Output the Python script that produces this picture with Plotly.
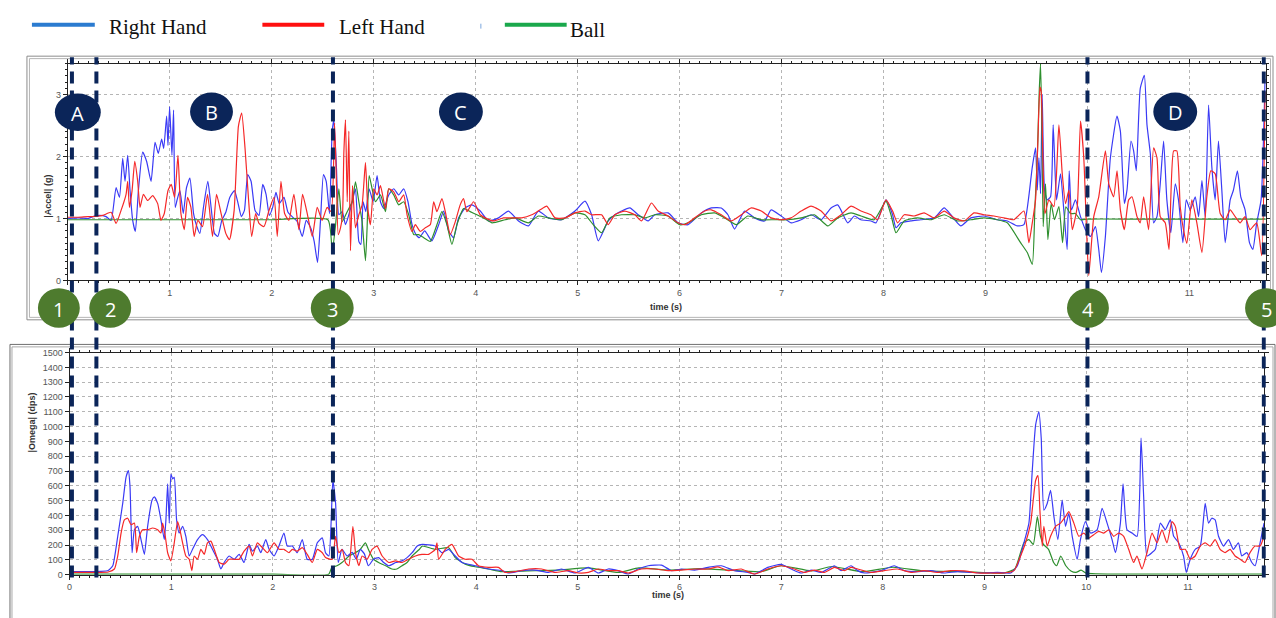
import plotly.graph_objects as go

W, H = 1276, 618

# ---------------- data (time s, value) ----------------
# Top panel: |Accel| (g)
rh_acc = [(0,1.0),(0.1,1.01),(0.2,1.0),(0.245,1.03),(0.31,1.05),(0.375,1.03),(0.424,0.97),(0.473,1.5),(0.506,1.34),(0.538,1.97),(0.561,1.6),(0.587,2.02),(0.61,1.45),(0.636,0.97),(0.662,0.79),(0.692,1.45),(0.734,2.07),(0.773,1.92),(0.816,1.6),(0.855,2.23),(0.887,2.05),(0.92,2.28),(0.94,2.13),(0.969,2.65),(0.982,2.18),(0.998,2.8),(1.021,2.02),(1.037,2.75),(1.053,1.18),(1.07,1.29),(1.099,1.45),(1.132,1.08),(1.164,1.5),(1.197,1.65),(1.233,1.08),(1.265,0.87),(1.295,0.76),(1.33,1.18),(1.373,1.6),(1.405,1.18),(1.438,0.76),(1.471,0.71),(1.51,0.97),(1.549,1.1),(1.588,1.34),(1.634,1.45),(1.67,1.24),(1.702,1.03),(1.732,1.13),(1.764,1.71),(1.797,1.6),(1.836,1.13),(1.875,1.05),(1.911,1.55),(1.944,1.39),(1.976,1.05),(2.009,1.18),(2.041,1.42),(2.074,1.24),(2.12,1.34),(2.159,1.1),(2.2,1.03),(2.25,0.95),(2.299,0.71),(2.338,0.97),(2.384,0.84),(2.416,0.63),(2.449,0.29),(2.478,0.97),(2.507,1.71),(2.534,1.6),(2.566,1.08),(2.592,2.39),(2.609,2.59),(2.635,1.8),(2.658,1.06),(2.691,1.11),(2.723,0.9),(2.756,1.06),(2.789,1.27),(2.821,1.48),(2.854,0.63),(2.874,0.58),(2.896,1.27),(2.922,1.11),(2.955,1.48),(2.994,1.27),(3.033,1.69),(3.066,1.27),(3.098,1.16),(3.147,1.38),(3.196,1.48),(3.245,1.38),(3.294,1.48),(3.336,1.27),(3.376,0.9),(3.415,0.74),(3.447,0.69),(3.5,0.8),(3.57,0.64),(3.637,0.9),(3.686,1.12),(3.735,0.8),(3.783,0.69),(3.833,1.01),(3.897,1.17),(3.963,1.22),(4.045,1.12),(4.126,0.96),(4.224,1.01),(4.322,1.12),(4.42,0.96),(4.517,0.88),(4.615,1.12),(4.713,1.01),(4.843,0.98),(4.974,1.12),(5.072,1.28),(5.137,1.06),(5.202,0.64),(5.3,0.96),(5.365,1.06),(5.43,1.12),(5.512,1.17),(5.594,1.06),(5.692,0.96),(5.757,1.06),(5.887,1.09),(5.985,0.93),(6.083,0.9),(6.213,1.09),(6.311,1.17),(6.409,1.17),(6.474,1.06),(6.539,0.83),(6.637,1.12),(6.735,1.01),(6.833,0.96),(6.898,1.14),(6.996,1.04),(7.094,0.93),(7.192,0.98),(7.29,1.06),(7.388,0.98),(7.485,1.17),(7.551,1.22),(7.649,0.93),(7.714,1.04),(7.779,0.98),(7.877,0.96),(7.926,0.93),(8.024,1.3),(8.089,1.06),(8.122,0.85),(8.17,0.93),(8.268,0.96),(8.366,0.98),(8.497,1.01),(8.595,1.17),(8.66,1.06),(8.758,0.88),(8.856,1.01),(8.985,1.04),(9.116,0.98),(9.214,0.96),(9.312,0.88),(9.377,0.9),(9.459,1.83),(9.491,2.14),(9.508,1.46),(9.524,1.98),(9.54,1.4),(9.556,3.0),(9.579,1.46),(9.605,1.3),(9.638,1.35),(9.664,2.51),(9.697,1.3),(9.736,1.72),(9.768,1.14),(9.801,0.5),(9.821,1.77),(9.844,1.14),(9.882,1.3),(9.932,1.03),(9.98,0.82),(10.03,0.71),(10.078,0.87),(10.111,0.5),(10.137,0.13),(10.176,0.71),(10.225,1.98),(10.29,2.65),(10.323,2.41),(10.362,1.24),(10.388,1.46),(10.427,2.25),(10.453,2.09),(10.479,1.77),(10.518,3.1),(10.558,3.31),(10.584,2.51),(10.617,2.04),(10.649,0.93),(10.682,1.03),(10.714,1.56),(10.747,2.25),(10.779,1.3),(10.818,0.77),(10.861,1.56),(10.893,1.3),(10.936,0.61),(10.969,1.3),(11.008,1.14),(11.057,1.35),(11.09,1.03),(11.123,1.61),(11.155,1.03),(11.188,2.83),(11.22,1.83),(11.253,1.3),(11.285,2.25),(11.318,1.46),(11.351,0.61),(11.4,1.3),(11.432,1.46),(11.471,1.77),(11.504,1.35),(11.546,1.14),(11.589,0.61),(11.622,0.5),(11.66,0.93),(11.703,1.3),(11.742,3.25)]

lh_acc = [(0,1.02),(0.1,1.02),(0.2,1.03),(0.245,1.03),(0.343,1.05),(0.424,1.1),(0.473,0.92),(0.522,1.13),(0.571,1.39),(0.587,1.6),(0.604,1.18),(0.63,1.45),(0.656,1.92),(0.685,1.6),(0.708,1.18),(0.741,1.39),(0.783,1.29),(0.832,1.37),(0.881,1.24),(0.913,0.97),(0.946,1.08),(0.982,1.45),(1.014,1.55),(1.047,1.34),(1.08,2.02),(1.109,1.08),(1.142,0.82),(1.174,1.34),(1.207,1.18),(1.239,0.71),(1.275,0.97),(1.321,0.87),(1.37,1.39),(1.419,0.71),(1.458,1.39),(1.503,1.08),(1.549,0.76),(1.585,0.66),(1.631,1.13),(1.673,2.49),(1.705,2.7),(1.738,2.13),(1.771,1.34),(1.803,0.71),(1.842,1.08),(1.875,0.92),(1.924,0.87),(1.973,1.13),(2.022,1.34),(2.054,0.71),(2.09,1.6),(2.126,1.08),(2.168,0.97),(2.217,1.39),(2.266,0.82),(2.302,1.39),(2.348,1.08),(2.397,0.71),(2.446,1.18),(2.494,0.97),(2.543,1.18),(2.583,1.11),(2.616,2.54),(2.635,1.53),(2.652,0.74),(2.674,0.85),(2.694,1.06),(2.707,2.06),(2.723,2.59),(2.74,1.27),(2.756,2.41),(2.772,0.48),(2.792,1.53),(2.821,0.85),(2.854,1.06),(2.886,1.22),(2.919,1.9),(2.942,1.16),(2.968,0.9),(3.0,1.48),(3.033,1.38),(3.066,1.53),(3.115,1.16),(3.147,1.48),(3.196,1.43),(3.245,1.27),(3.294,1.38),(3.327,1.06),(3.376,0.79),(3.408,0.9),(3.457,0.79),(3.506,0.85),(3.555,0.9),(3.588,1.27),(3.62,1.11),(3.669,1.32),(3.702,1.11),(3.751,0.74),(3.8,0.95),(3.848,1.22),(3.881,1.32),(3.914,1.11),(3.979,1.27),(4.045,1.06),(4.093,1.01),(4.175,0.96),(4.273,1.01),(4.354,1.01),(4.452,1.01),(4.55,1.06),(4.632,1.14),(4.697,1.2),(4.778,1.01),(4.876,1.01),(4.974,1.09),(5.072,1.12),(5.137,1.06),(5.235,1.06),(5.3,0.9),(5.365,1.06),(5.463,1.12),(5.561,1.06),(5.626,0.96),(5.724,1.25),(5.789,1.12),(5.887,1.04),(5.985,0.93),(6.05,0.9),(6.148,1.01),(6.246,1.12),(6.311,1.14),(6.409,1.06),(6.507,0.96),(6.605,1.06),(6.703,1.17),(6.801,1.12),(6.898,1.01),(6.996,0.98),(7.094,1.01),(7.192,1.12),(7.29,1.2),(7.388,1.12),(7.485,0.96),(7.583,1.06),(7.681,1.2),(7.779,1.12),(7.877,1.06),(7.942,0.98),(8.024,1.3),(8.089,1.12),(8.138,0.93),(8.203,1.06),(8.3,1.04),(8.398,1.09),(8.497,1.01),(8.595,1.12),(8.692,1.01),(8.79,0.96),(8.888,1.09),(8.985,1.06),(9.083,1.04),(9.181,1.01),(9.279,0.98),(9.377,1.12),(9.426,0.61),(9.459,0.93),(9.491,1.3),(9.514,2.25),(9.534,3.12),(9.547,3.04),(9.563,1.98),(9.583,1.08),(9.622,1.3),(9.671,1.19),(9.72,2.51),(9.753,1.72),(9.785,1.24),(9.818,1.46),(9.851,0.82),(9.9,1.19),(9.932,2.57),(9.964,1.98),(9.991,0.82),(10.013,0.08),(10.062,1.03),(10.111,1.35),(10.176,2.09),(10.209,1.56),(10.257,1.35),(10.29,1.77),(10.323,1.14),(10.362,0.82),(10.404,1.3),(10.437,1.35),(10.486,1.03),(10.518,0.93),(10.551,1.35),(10.6,0.82),(10.649,2.14),(10.682,1.98),(10.714,1.03),(10.763,0.93),(10.8,0.5),(10.845,2.09),(10.877,2.09),(10.91,1.19),(10.942,0.82),(10.975,0.6),(11.024,1.3),(11.073,0.93),(11.123,0.45),(11.171,1.35),(11.21,1.77),(11.253,1.72),(11.302,1.08),(11.351,0.98),(11.4,1.14),(11.449,1.03),(11.498,0.93),(11.546,1.03),(11.595,0.82),(11.66,0.93),(11.709,0.4),(11.742,3.04)]

ball_acc = [(0,0.98),(0.5,0.98),(1.0,0.98),(1.5,0.98),(2.0,0.98),(2.55,0.98),(2.593,0.48),(2.626,0.9),(2.658,1.48),(2.691,0.95),(2.74,1.11),(2.789,1.27),(2.821,1.59),(2.854,1.27),(2.886,0.95),(2.919,0.32),(2.935,0.85),(2.955,1.69),(2.984,1.48),(3.017,1.27),(3.066,1.38),(3.115,1.11),(3.147,1.48),(3.196,1.38),(3.245,1.22),(3.294,1.27),(3.343,1.06),(3.392,0.74),(3.441,0.74),(3.49,0.69),(3.555,0.63),(3.62,0.9),(3.669,1.11),(3.718,0.9),(3.767,0.58),(3.816,0.9),(3.881,1.16),(3.946,1.11),(4.012,1.06),(4.077,1.01),(4.159,0.93),(4.289,0.98),(4.387,1.01),(4.517,0.93),(4.615,1.04),(4.713,1.01),(4.843,0.98),(4.974,1.09),(5.072,1.06),(5.153,0.9),(5.235,0.77),(5.316,1.01),(5.43,1.06),(5.561,1.06),(5.659,1.01),(5.757,1.06),(5.887,1.04),(6.001,0.9),(6.083,0.93),(6.213,1.06),(6.344,1.09),(6.442,1.01),(6.556,0.9),(6.67,1.04),(6.801,0.98),(6.931,0.98),(7.061,0.98),(7.192,1.01),(7.322,1.06),(7.453,0.88),(7.551,1.01),(7.681,1.09),(7.779,1.04),(7.909,0.98),(8.024,1.28),(8.073,1.06),(8.122,0.77),(8.203,0.96),(8.333,1.01),(8.464,0.98),(8.595,1.06),(8.725,0.96),(8.856,0.98),(8.985,1.01),(9.116,0.98),(9.214,0.93),(9.344,0.61),(9.41,0.45),(9.459,0.26),(9.485,1.19),(9.508,1.98),(9.527,3.04),(9.54,3.5),(9.553,2.51),(9.566,0.87),(9.589,1.56),(9.612,0.66),(9.644,1.24),(9.677,0.98),(9.72,1.19),(9.756,0.61),(9.788,1.19),(9.834,1.08),(9.882,1.08),(9.932,0.98),(10.0,0.99),(10.5,0.99),(11.0,0.99),(11.5,0.99),(11.75,0.99)]

# Bottom panel: |Omega| (dps)
rh_gyr = [(0,20),(0.1,20),(0.2,20),(0.3,22),(0.38,28),(0.425,60),(0.474,259),(0.523,481),(0.556,658),(0.579,702),(0.595,591),(0.615,148),(0.638,303),(0.67,326),(0.703,237),(0.736,137),(0.768,326),(0.811,503),(0.834,525),(0.867,481),(0.899,370),(0.932,237),(0.948,370),(0.965,614),(0.981,348),(0.997,680),(1.014,647),(1.03,658),(1.053,370),(1.079,281),(1.112,326),(1.144,259),(1.177,126),(1.21,171),(1.259,237),(1.308,270),(1.357,237),(1.406,171),(1.455,104),(1.488,38),(1.521,82),(1.57,126),(1.619,104),(1.668,137),(1.717,82),(1.766,204),(1.799,159),(1.848,193),(1.881,148),(1.93,237),(1.963,171),(2.012,126),(2.06,193),(2.109,281),(2.142,193),(2.191,193),(2.24,148),(2.289,237),(2.338,104),(2.388,104),(2.437,215),(2.486,248),(2.518,148),(2.551,126),(2.59,636),(2.617,481),(2.643,82),(2.68,170),(2.73,126),(2.78,150),(2.82,104),(2.86,170),(2.9,140),(2.94,60),(2.99,104),(3.04,115),(3.09,82),(3.14,60),(3.21,82),(3.27,93),(3.32,115),(3.37,148),(3.42,193),(3.47,204),(3.598,193),(3.663,149),(3.729,171),(3.794,126),(3.86,82),(3.991,60),(4.121,38),(4.252,27),(4.318,11),(4.448,27),(4.579,31),(4.71,15),(4.84,38),(4.971,11),(5.103,49),(5.201,11),(5.299,38),(5.397,27),(5.495,4),(5.593,38),(5.692,60),(5.823,64),(5.921,27),(6.019,38),(6.15,31),(6.281,49),(6.411,60),(6.542,27),(6.673,15),(6.738,4),(6.869,49),(7.0,69),(7.098,38),(7.197,11),(7.295,31),(7.393,15),(7.524,60),(7.589,27),(7.687,60),(7.752,27),(7.818,11),(7.981,27),(8.112,60),(8.211,27),(8.341,20),(8.472,27),(8.603,11),(8.734,20),(8.865,15),(8.995,11),(9.126,15),(9.257,11),(9.323,60),(9.388,215),(9.437,348),(9.47,702),(9.503,1012),(9.535,1100),(9.558,923),(9.584,436),(9.617,481),(9.65,569),(9.683,392),(9.722,237),(9.764,503),(9.797,326),(9.83,414),(9.863,259),(9.912,104),(9.944,237),(9.993,359),(10.043,281),(10.108,303),(10.157,447),(10.206,348),(10.255,237),(10.288,149),(10.337,348),(10.363,613),(10.402,303),(10.452,281),(10.501,259),(10.54,923),(10.566,525),(10.599,126),(10.648,149),(10.681,171),(10.73,348),(10.779,303),(10.828,370),(10.861,259),(10.91,215),(10.958,126),(10.985,15),(11.024,104),(11.073,171),(11.122,193),(11.171,481),(11.204,348),(11.236,381),(11.269,370),(11.302,259),(11.351,193),(11.4,237),(11.449,171),(11.498,215),(11.531,126),(11.58,149),(11.63,82),(11.662,60),(11.711,215),(11.75,348)]

lh_gyr = [(0,15),(0.1,15),(0.2,15),(0.3,15),(0.38,18),(0.441,38),(0.474,126),(0.507,281),(0.539,370),(0.572,381),(0.605,337),(0.638,348),(0.66,148),(0.687,259),(0.719,303),(0.768,303),(0.818,315),(0.867,303),(0.899,281),(0.916,348),(0.942,259),(0.965,148),(0.997,93),(1.03,215),(1.063,359),(1.086,303),(1.112,215),(1.144,126),(1.177,104),(1.203,27),(1.226,126),(1.259,104),(1.292,171),(1.325,137),(1.357,215),(1.39,226),(1.423,171),(1.472,82),(1.521,71),(1.57,104),(1.619,104),(1.668,104),(1.717,159),(1.766,193),(1.799,126),(1.848,215),(1.897,182),(1.946,148),(2.012,215),(2.06,171),(2.109,171),(2.159,148),(2.191,171),(2.24,159),(2.289,182),(2.338,137),(2.388,82),(2.437,171),(2.486,148),(2.518,115),(2.584,104),(2.616,259),(2.649,148),(2.682,170),(2.714,82),(2.747,60),(2.787,326),(2.813,148),(2.846,60),(2.878,126),(2.927,104),(2.976,170),(3.025,193),(3.075,126),(3.14,82),(3.205,93),(3.271,82),(3.336,104),(3.402,126),(3.467,137),(3.533,137),(3.598,171),(3.614,215),(3.631,104),(3.696,171),(3.761,204),(3.827,126),(3.892,104),(3.958,104),(4.023,60),(4.121,49),(4.219,49),(4.285,15),(4.383,20),(4.514,38),(4.645,38),(4.776,15),(4.906,27),(5.004,11),(5.103,15),(5.201,38),(5.299,27),(5.397,27),(5.495,11),(5.626,38),(5.757,38),(5.888,27),(6.019,31),(6.15,38),(6.281,38),(6.379,53),(6.477,27),(6.608,38),(6.738,4),(6.869,38),(7.0,60),(7.131,38),(7.229,15),(7.327,31),(7.425,15),(7.524,49),(7.622,27),(7.687,49),(7.752,38),(7.883,15),(8.014,27),(8.145,38),(8.276,15),(8.406,27),(8.537,15),(8.668,27),(8.799,25),(8.93,11),(9.061,11),(9.191,11),(9.29,27),(9.355,126),(9.404,215),(9.454,348),(9.503,636),(9.526,669),(9.545,436),(9.568,193),(9.584,326),(9.617,193),(9.65,259),(9.699,326),(9.748,348),(9.797,392),(9.83,425),(9.879,348),(9.928,259),(9.977,281),(10.026,248),(10.075,270),(10.124,292),(10.173,281),(10.222,303),(10.271,259),(10.32,281),(10.369,259),(10.418,171),(10.467,82),(10.5,126),(10.549,38),(10.599,149),(10.648,281),(10.697,215),(10.746,303),(10.795,215),(10.844,359),(10.877,326),(10.926,171),(10.975,171),(11.024,104),(11.073,126),(11.122,193),(11.171,215),(11.22,193),(11.269,237),(11.318,171),(11.367,149),(11.416,171),(11.465,126),(11.514,104),(11.563,82),(11.612,149),(11.662,193),(11.711,193),(11.75,259)]

ball_gyr = [(0,3),(1,3),(2,3),(2.55,3),(2.58,49),(2.63,60),(2.68,82),(2.75,126),(2.81,148),(2.86,170),(2.91,215),(2.94,170),(2.99,104),(3.04,82),(3.11,60),(3.17,38),(3.22,38),(3.27,60),(3.32,82),(3.37,126),(3.44,170),(3.47,193),(3.598,171),(3.729,182),(3.794,115),(3.892,71),(3.991,53),(4.121,38),(4.252,20),(4.5,25),(4.8,30),(5.1,45),(5.4,15),(5.6,45),(5.9,30),(6.2,40),(6.5,30),(6.8,20),(7.0,60),(7.3,25),(7.5,55),(7.8,20),(8.1,50),(8.4,25),(8.8,20),(9.2,12),(9.3,40),(9.388,215),(9.437,237),(9.48,204),(9.52,392),(9.55,260),(9.58,204),(9.63,171),(9.68,82),(9.71,60),(9.75,126),(9.8,60),(9.85,25),(9.9,15),(9.95,30),(10.0,10),(10.1,5),(10.5,3),(11.0,3),(11.75,3)]

event_times = [0.04, 0.28, 2.6, 10.0, 11.73]
phase_labels = ["A", "B", "C", "D"]
event_labels = ["1", "2", "3", "4", "5"]
series_names = ["Right Hand", "Left Hand", "Ball"]

# ---------------- styling ----------------
C_BLUE, C_RED, C_GREEN = "#3a3af5", "#f52828", "#2e8f2e"
NAVY, OLIVE = "#0b2559", "#4e7b2e"

def px(x):
    return x / W

def py(y):
    return 1 - y / H

fig = go.Figure()

def add(series, name, color, xa, ya):
    t = [p[0] for p in series]
    v = [p[1] for p in series]
    fig.add_trace(go.Scatter(x=t, y=v, mode="lines", name=name, xaxis=xa, yaxis=ya,
                             line=dict(color=color, width=1.2, shape="spline", smoothing=0.5),
                             showlegend=False, hoverinfo="skip"))

add(rh_acc, series_names[0], C_BLUE, "x", "y")
add(ball_acc, series_names[2], C_GREEN, "x", "y")
add(lh_acc, series_names[1], C_RED, "x", "y")
add(ball_gyr, series_names[2], C_GREEN, "x2", "y2")
add(rh_gyr, series_names[0], C_BLUE, "x2", "y2")
add(lh_gyr, series_names[1], C_RED, "x2", "y2")

tickfont = dict(family="Liberation Sans, Arial", size=9, color="#555")
common_x = dict(range=[0, 11.75], dtick=1, tick0=0, showgrid=True, gridcolor="#b5b5b5",
                griddash="dot", gridwidth=1, showline=True, linecolor="#222", linewidth=1,
                mirror="ticks", ticks="outside", ticklen=4, tickcolor="#222", zeroline=False,
                tickfont=tickfont, minor=dict(dtick=0.1, ticks="outside", ticklen=2, tickcolor="#222", showgrid=False))
common_y = dict(showgrid=True, gridcolor="#b5b5b5", griddash="dot", gridwidth=1, showline=True,
                linecolor="#222", linewidth=1, mirror="ticks", ticks="outside", ticklen=4,
                tickcolor="#222", zeroline=False, tickfont=tickfont)

fig.update_layout(
    width=W, height=H, autosize=False,
    margin=dict(l=0, r=0, t=0, b=0),
    paper_bgcolor="white", plot_bgcolor="white",
    xaxis=dict(domain=[px(65), px(65 + 11.75 * 102.2)], anchor="y", **common_x),
    yaxis=dict(domain=[py(280), py(59.5)], range=[0, 3.5], dtick=1, anchor="x",
               minor=dict(dtick=0.1, ticks="outside", ticklen=2, tickcolor="#222", showgrid=False), **common_y),
    xaxis2=dict(domain=[px(66.7), px(66.7 + 11.75 * 101.9)], anchor="y2", **common_x),
    yaxis2=dict(domain=[py(579), py(353.3)], range=[0, 1500], dtick=100, anchor="x2", **common_y),
)

shapes = []
annos = []
# panel frames
shapes.append(dict(type="rect", xref="paper", yref="paper", x0=px(24), x1=px(1273), y0=py(320), y1=py(52),
                   line=dict(color="#8c8c8c", width=1)))
shapes.append(dict(type="rect", xref="paper", yref="paper", x0=px(26.5), x1=px(1270.5), y0=py(317.5), y1=py(54.5),
                   line=dict(color="#b5b5b5", width=1)))
shapes.append(dict(type="rect", xref="paper", yref="paper", x0=px(7), x1=px(1275), y0=py(640), y1=py(345),
                   line=dict(color="#6e6e6e", width=1)))
shapes.append(dict(type="rect", xref="paper", yref="paper", x0=px(9), x1=px(1273), y0=py(640), y1=py(347.5),
                   line=dict(color="#a8a8a8", width=1)))

# event dashed lines
for t in event_times:
    shapes.append(dict(type="line", xref="x", yref="paper", x0=t, x1=t, y0=py(582), y1=py(53),
                       line=dict(color=NAVY, width=4, dash="12px,7px"), layer="above"))

# phase and event markers
markers = [(phase_labels[0], 75, 109, 46, 38, NAVY), (phase_labels[1], 209, 108.5, 43, 39, NAVY),
           (phase_labels[2], 459, 108.5, 44, 39, NAVY), (phase_labels[3], 1175, 108.5, 44, 39, NAVY),
           (event_labels[0], 56, 308, 42, 40, OLIVE), (event_labels[1], 107.5, 308, 42, 40, OLIVE),
           (event_labels[2], 330, 308, 43, 40, OLIVE), (event_labels[3], 1087.5, 308, 42, 40, OLIVE),
           (event_labels[4], 1266, 308, 42, 40, OLIVE)]
for lab, cx, cy, w, h, col in markers:
    shapes.append(dict(type="circle", xref="paper", yref="paper", x0=px(cx - w / 2), x1=px(cx + w / 2),
                       y0=py(cy + h / 2), y1=py(cy - h / 2), fillcolor=col, line=dict(width=0), layer="above"))
    annos.append(dict(text=lab, x=px(cx), y=py(cy + 1), xref="paper", yref="paper", showarrow=False,
                      xanchor="center", yanchor="middle",
                      font=dict(family="Open Sans, Noto Sans", size=20, color="white")))

# legend drawn at top
leg = [(series_names[0], 29, 92, 104, 22, "#2b7bd0"), (series_names[1], 260, 322, 335, 22, "#ff1010"),
       (series_names[2], 503, 565, 566, 25, "#1aa84c")]
for name, x0, x1, tx, ty, col in leg:
    shapes.append(dict(type="line", xref="paper", yref="paper", x0=px(x0), x1=px(x1), y0=py(20), y1=py(20),
                       line=dict(color=col, width=4)))
    annos.append(dict(text=name, x=px(tx), y=py(ty), xref="paper", yref="paper", showarrow=False,
                      xanchor="left", yanchor="middle",
                      font=dict(family="Liberation Serif, Times New Roman", size=21, color="#111")))
shapes.append(dict(type="line", xref="paper", yref="paper", x0=px(479), x1=px(479), y0=py(24), y1=py(19),
                   line=dict(color="#7aa6dd", width=1)))

# axis titles
title_font = dict(family="Liberation Sans, Arial", size=9, color="#333")
annos.append(dict(text="<b>|Accel| (g)</b>", x=px(38), y=py(170), xref="paper", yref="paper", showarrow=False,
                  textangle=-90, font=title_font))
annos.append(dict(text="<b>|Omega| (dps)</b>", x=px(22), y=py(457), xref="paper", yref="paper", showarrow=False,
                  textangle=-90, font=title_font))
annos.append(dict(text="<b>time (s)</b>", x=px(665), y=py(307), xref="paper", yref="paper", showarrow=False,
                  font=title_font))
annos.append(dict(text="<b>time (s)</b>", x=px(667), y=py(607), xref="paper", yref="paper", showarrow=False,
                  font=title_font))

fig.update_layout(shapes=shapes, annotations=annos)
fig.write_html("out.html", config={"responsive": False, "displayModeBar": False},
               post_script="var s=document.documentElement.style;s.margin='0';s.padding='0';s.overflow='hidden';"
                           "s.height='618px';var b=document.body.style;b.margin='0';b.padding='0';"
                           "b.overflow='hidden';b.height='618px';")
